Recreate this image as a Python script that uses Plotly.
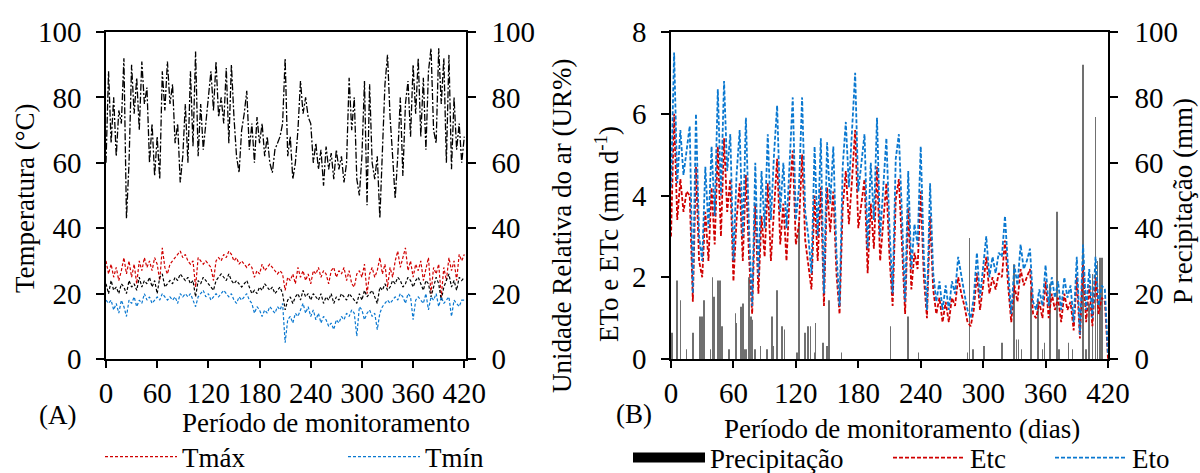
import plotly.graph_objects as go

# ---------------- data ----------------
days = list(range(0, 421, 3))

ur = [60, 88, 66, 80, 62, 76, 72, 92, 43, 60,
      90, 75, 86, 70, 91, 78, 83, 60, 72, 56,
      68, 55, 88, 76, 91, 78, 84, 66, 72, 54,
      62, 78, 60, 88, 65, 94, 62, 78, 64, 72,
      80, 88, 76, 91, 74, 80, 72, 89, 66, 90,
      74, 62, 57, 70, 75, 82, 64, 72, 60, 74,
      66, 72, 62, 68, 60, 57, 64, 66, 68, 72,
      92, 62, 68, 55, 60, 70, 85, 75, 80, 74,
      72, 60, 66, 58, 64, 53, 65, 58, 63, 55,
      64, 58, 62, 54, 60, 86, 70, 80, 55, 50,
      62, 85, 47, 84, 60, 55, 62, 43, 65, 84,
      93, 74, 62, 49, 62, 80, 56, 78, 85, 68,
      90, 75, 92, 68, 86, 64, 88, 95, 70, 66,
      95, 78, 92, 60, 93, 58, 80, 64, 72, 60,
      68]

tmax = [30, 26, 29, 25, 28, 24, 27, 31, 26, 30,
        25, 29, 23, 30, 27, 31, 28, 30, 27, 31,
        29, 24, 34, 28, 26, 29, 30, 31, 32, 33,
        31, 32, 30, 29, 30, 22, 31, 30, 29, 30,
        29, 28, 24, 30, 31, 30, 32, 31, 33, 32,
        30, 31, 29, 30, 29, 28, 29, 28, 25, 27,
        26, 29, 27, 28, 29, 28, 27, 26, 27, 26,
        21, 25, 24, 26, 23, 28, 25, 27, 24, 26,
        23, 27, 26, 28, 25, 27, 26, 23, 27, 28,
        25, 27, 26, 28, 24, 27, 23, 22, 26, 27,
        25, 29, 20, 26, 28, 25, 27, 31, 26, 29,
        22, 28, 25, 30, 33, 28, 31, 34, 27, 30,
        25, 29, 27, 30, 24, 28, 31, 20, 28, 26,
        29, 19, 28, 24, 31, 27, 30, 24, 32, 30,
        32]

tmed = [23, 20, 24, 21, 22, 20, 23, 22, 20, 24,
        22, 23, 21, 25, 22, 24, 23, 25, 22, 24,
        20, 25, 26, 22, 23, 24, 23, 25, 24, 26,
        25, 24, 25, 23, 24, 19, 24, 23, 25, 24,
        23, 22, 21, 24, 25, 26, 25, 24, 26, 24,
        23, 24, 23, 22, 23, 24, 22, 20, 21, 20,
        22, 21, 23, 22, 21, 22, 20, 21, 22, 20,
        15, 18, 19, 17, 19, 20, 18, 21, 19, 20,
        18, 20, 19, 18, 20, 17, 19, 18, 20, 17,
        19, 18, 20, 19, 18, 20, 19, 18, 17, 20,
        18, 21, 19, 20, 21, 19, 17, 22, 21, 23,
        21, 22, 24, 23, 25, 24, 22, 23, 25, 24,
        22, 24, 25, 23, 21, 24, 23, 19, 22, 25,
        23, 18, 22, 24, 26, 22, 24, 21, 25, 24,
        25]

tmin = [18, 17, 18, 15, 17, 14, 18, 16, 13, 18,
        17, 19, 16, 18, 17, 20, 18, 19, 17, 18,
        19, 18, 20, 19, 18, 19, 18, 19, 17, 20,
        19, 20, 19, 20, 18, 16, 19, 20, 21, 19,
        20, 18, 19, 20, 19, 20, 21, 20, 19, 20,
        18, 17, 19, 18, 19, 20, 18, 17, 14, 16,
        15, 13, 15, 14, 16, 15, 14, 16, 15, 17,
        5, 12, 13, 11, 14, 13, 15, 17, 14, 16,
        13, 15, 12, 14, 11, 13, 12, 10, 11, 9,
        12, 11, 13, 12, 14, 13, 15, 14, 7, 16,
        15, 12, 14, 15, 13, 14, 9, 14, 16, 17,
        18, 17, 18, 19, 18, 20, 19, 17, 20, 19,
        12, 18, 19, 18, 17, 20, 15, 19, 18, 20,
        16, 19, 17, 18, 19, 13, 18, 17, 16, 18,
        18]

eto = [4.2, 7.5, 4.3, 5.6, 4.5, 5.1, 5.7, 1.6, 6.0, 3.0,
       2.4, 4.7, 3.2, 5.2, 3.5, 6.6, 4.0, 6.8, 4.6, 5.5,
       2.4, 4.5, 5.6, 3.0, 5.9, 3.2, 1.3, 4.8, 2.0, 4.6,
       3.2, 5.5, 3.4, 5.0, 6.2, 3.6, 4.8, 3.2, 5.0, 6.4,
       3.4, 4.2, 6.4, 3.6, 3.0, 2.1, 5.2, 3.0, 5.4, 1.6,
       5.3, 3.8, 5.2, 2.6, 1.3, 4.7, 5.8, 4.2, 5.6, 7.0,
       4.1, 4.8, 5.5, 2.7, 4.8, 3.4, 5.9, 3.0, 4.2, 5.4,
       3.2, 1.6, 4.9, 5.5, 3.5, 1.4, 4.6, 2.2, 3.3, 2.8,
       5.2, 2.5, 1.2, 4.3, 2.1, 1.4, 1.9, 1.2, 1.8, 1.2,
       1.9, 1.6, 2.5, 2.0, 1.6, 1.2, 1.0, 1.5, 2.6, 1.5,
       2.2, 3.0, 2.0, 2.5, 2.1, 2.6, 2.5, 3.5, 2.2, 1.1,
       2.3, 1.8, 2.8, 2.2, 2.4, 2.7, 1.4, 1.2, 1.7, 1.3,
       2.3, 1.3, 2.0, 1.5, 1.9, 1.2, 2.0, 1.5, 1.8, 0.9,
       2.5, 0.6, 2.8, 1.2, 2.2, 1.0, 2.5, 1.3, 1.8, 1.7,
       0.1]

etc = [3.0, 6.0, 3.4, 4.4, 3.6, 4.1, 4.0, 1.4, 4.7, 2.4,
       2.0, 3.6, 2.4, 4.2, 2.8, 5.2, 3.0, 5.4, 3.6, 4.4,
       1.9, 3.4, 4.3, 2.4, 4.5, 2.5, 1.1, 3.8, 1.6, 3.5,
       2.5, 4.3, 2.4, 3.8, 4.9, 2.8, 3.8, 2.4, 4.0, 5.1,
       2.8, 3.3, 5.0, 2.9, 2.3, 1.7, 4.0, 2.4, 4.2, 1.3,
       4.2, 3.1, 4.1, 2.1, 1.1, 3.7, 4.6, 3.3, 4.4, 5.6,
       3.2, 3.8, 4.4, 2.1, 3.8, 2.7, 4.7, 2.4, 3.3, 4.3,
       2.5, 1.3, 3.9, 4.4, 2.8, 1.1, 3.7, 1.7, 2.6, 2.2,
       4.1, 2.0, 1.0, 3.5, 1.7, 1.1, 1.5, 0.9, 1.4, 0.9,
       1.5, 1.3, 2.0, 1.6, 1.3, 0.9, 0.8, 1.2, 2.1, 1.2,
       1.8, 2.5, 1.6, 2.0, 1.7, 2.1, 2.0, 2.9, 1.8, 0.9,
       1.8, 1.4, 2.2, 1.8, 2.0, 2.2, 1.1, 1.0, 1.4, 1.0,
       1.9, 1.0, 1.6, 1.2, 1.5, 0.9, 1.6, 1.2, 1.4, 0.7,
       2.0, 0.5, 2.3, 0.9, 1.8, 0.8, 2.0, 1.1, 1.5, 1.4,
       0.0]

precip_days = [1, 6, 9, 15, 21, 28, 30, 32, 38, 40, 41, 45, 47, 49, 56, 62, 63,
               67, 69, 70, 72, 75, 77, 78, 81, 86, 92, 97, 98, 102, 107, 109,
               121, 123, 129, 132, 134, 138, 139, 146, 150, 152, 164, 211, 228,
               238, 285, 287, 290, 301, 318, 330, 332, 334, 337, 346, 353, 357,
               359, 364, 371, 373, 382, 386, 396, 399, 402, 405, 408, 410, 412, 414]
precip_mm = [8, 24, 18, 3, 8, 13, 13, 18, 3, 25, 19, 24, 24, 10, 3, 14, 11,
             16, 17, 3, 3, 25, 13, 12, 3, 4, 3, 13, 4, 21, 10, 9,
             2, 42, 8, 10, 10, 2, 11, 5, 4, 18, 2, 10, 13,
             2, 2, 37, 3, 4, 5, 29, 6, 6, 3, 21, 18, 3,
             5, 23, 45, 3, 5, 3, 90, 3, 17, 26, 74, 30, 31, 31]

x_ticks = [0, 60, 120, 180, 240, 300, 360, 420]
temp_ticks = [0, 20, 40, 60, 80, 100]
et_ticks = [0, 2, 4, 6, 8]
p_ticks = [0, 20, 40, 60, 80, 100]

# ---------------- style ----------------
W, H = 1200, 473
FONT = "Liberation Serif, Times New Roman, Tinos, DejaVu Serif, serif"
FS = 27        # titles / legend
FS_TICK = 29   # tick labels
RED = "#d00000"
BLUE = "#0a78d0"


def px(x):
    return x / W


def py(y):
    return 1 - y / H


L_X0, L_X1 = px(106), px(466)
R_X0, R_X1 = px(671), px(1108)
Y0, Y1 = py(359), py(32)

fig = go.Figure()

# Left panel: temperatures (y) and relative humidity (y2)
fig.add_trace(go.Scatter(x=days, y=ur, xaxis="x", yaxis="y2", mode="lines",
                         line=dict(color="black", width=1.3, dash="7px,2px,2px,2px"),
                         showlegend=False, name="UR"))
fig.add_trace(go.Scatter(x=days, y=tmax, xaxis="x", yaxis="y", mode="lines",
                         line=dict(color=RED, width=1.2, dash="3px,2px"),
                         name="Tmáx", legend="legend"))
fig.add_trace(go.Scatter(x=days, y=tmed, xaxis="x", yaxis="y", mode="lines",
                         line=dict(color="black", width=1.2, dash="3px,2px"),
                         showlegend=False, name="Tméd"))
fig.add_trace(go.Scatter(x=days, y=tmin, xaxis="x", yaxis="y", mode="lines",
                         line=dict(color=BLUE, width=1.2, dash="3px,2px"),
                         name="Tmín", legend="legend2"))

# Right panel: precipitation (y3, right side) and ET (y4, left side, overlay)
fig.add_trace(go.Bar(x=precip_days, y=precip_mm, xaxis="x2", yaxis="y3",
                     width=0.7, marker=dict(color="#707070", line=dict(width=0)),
                     showlegend=False, name="Precipitação"))
fig.add_trace(go.Scatter(x=[None], y=[None], xaxis="x2", yaxis="y3", mode="lines",
                         line=dict(color="black", width=10),
                         name="Precipitação", legend="legend3"))
fig.add_trace(go.Scatter(x=days, y=etc, xaxis="x2", yaxis="y4", mode="lines",
                         line=dict(color=RED, width=1.8, dash="4px,2px"),
                         name="Etc", legend="legend4"))
fig.add_trace(go.Scatter(x=days, y=eto, xaxis="x2", yaxis="y4", mode="lines",
                         line=dict(color=BLUE, width=1.8, dash="4px,2px"),
                         name="Eto", legend="legend5"))

axis_common = dict(showgrid=False, zeroline=False, showline=True, linecolor="black",
                   linewidth=1.5, ticks="outside", tickcolor="black", tickwidth=1.5,
                   tickfont=dict(family=FONT, size=FS_TICK, color="black"))

fig.update_layout(
    width=W, height=H, autosize=False,
    margin=dict(l=0, r=0, t=0, b=0, autoexpand=False),
    paper_bgcolor="white", plot_bgcolor="white",
    font=dict(family=FONT, size=FS, color="black"),
    xaxis=dict(domain=[L_X0, L_X1], anchor="y", range=[0, 422], tickvals=x_ticks,
               ticklen=7, mirror=True, ticklabelstandoff=0, **axis_common),
    yaxis=dict(domain=[Y0, Y1], anchor="x", range=[0, 100], tickvals=temp_ticks,
               ticklen=8, ticklabelstandoff=9, **axis_common),
    yaxis2=dict(domain=[Y0, Y1], anchor="x", overlaying="y", side="right",
                range=[0, 100], tickvals=temp_ticks, ticklen=8,
                ticklabelstandoff=10, **axis_common),
    xaxis2=dict(domain=[R_X0, R_X1], anchor="y3", range=[0, 420], tickvals=x_ticks,
                ticklen=7, mirror=True, ticklabelstandoff=0, **axis_common),
    yaxis3=dict(domain=[Y0, Y1], anchor="x2", side="right", range=[0, 100],
                tickvals=p_ticks, ticklen=8, ticklabelstandoff=11, **axis_common),
    yaxis4=dict(domain=[Y0, Y1], anchor="x2", overlaying="y3", side="left",
                range=[0, 8], tickvals=et_ticks, ticklen=8, ticklabelstandoff=9,
                **axis_common),
    barmode="overlay",
)

legend_common = dict(orientation="h", xanchor="left", yanchor="middle",
                     bgcolor="rgba(0,0,0,0)", borderwidth=0, itemwidth=72,
                     font=dict(family=FONT, size=FS, color="black"))
fig.update_layout(
    legend=dict(x=px(100), y=py(457), **legend_common),
    legend2=dict(x=px(343), y=py(457), **legend_common),
    legend3=dict(x=px(628), y=py(458), **legend_common),
    legend4=dict(x=px(888), y=py(458), **legend_common),
    legend5=dict(x=px(1050), y=py(458), **legend_common),
)

ann_common = dict(xref="paper", yref="paper", showarrow=False,
                  font=dict(family=FONT, size=FS, color="black"))
annotations = [
    dict(x=px(25), y=py(198), text="Temperatura (°C)", textangle=-90,
         xanchor="center", yanchor="middle"),
    dict(x=px(562), y=py(226), text="Unidade Relativa do ar (UR%)", textangle=-90,
         xanchor="center", yanchor="middle"),
    dict(x=px(607), y=py(234), text="ETo e ETc (mm d<sup>-1</sup>)", textangle=-90,
         xanchor="center", yanchor="middle"),
    dict(x=px(1183), y=py(201), text="P recipitação (mm)", textangle=-90,
         xanchor="center", yanchor="middle"),
    dict(x=px(326), y=py(423), text="Período de monitoramento",
         xanchor="center", yanchor="middle"),
    dict(x=px(57), y=py(415), text="(A)", xanchor="center", yanchor="middle"),
    dict(x=px(902), y=py(429), text="Período de monitoramento (dias)",
         xanchor="center", yanchor="middle"),
    dict(x=px(634), y=py(414), text="(B)", xanchor="center", yanchor="middle"),
]
fig.update_layout(annotations=[dict(**ann_common, **a) for a in annotations])

fig.write_html("out.html")
